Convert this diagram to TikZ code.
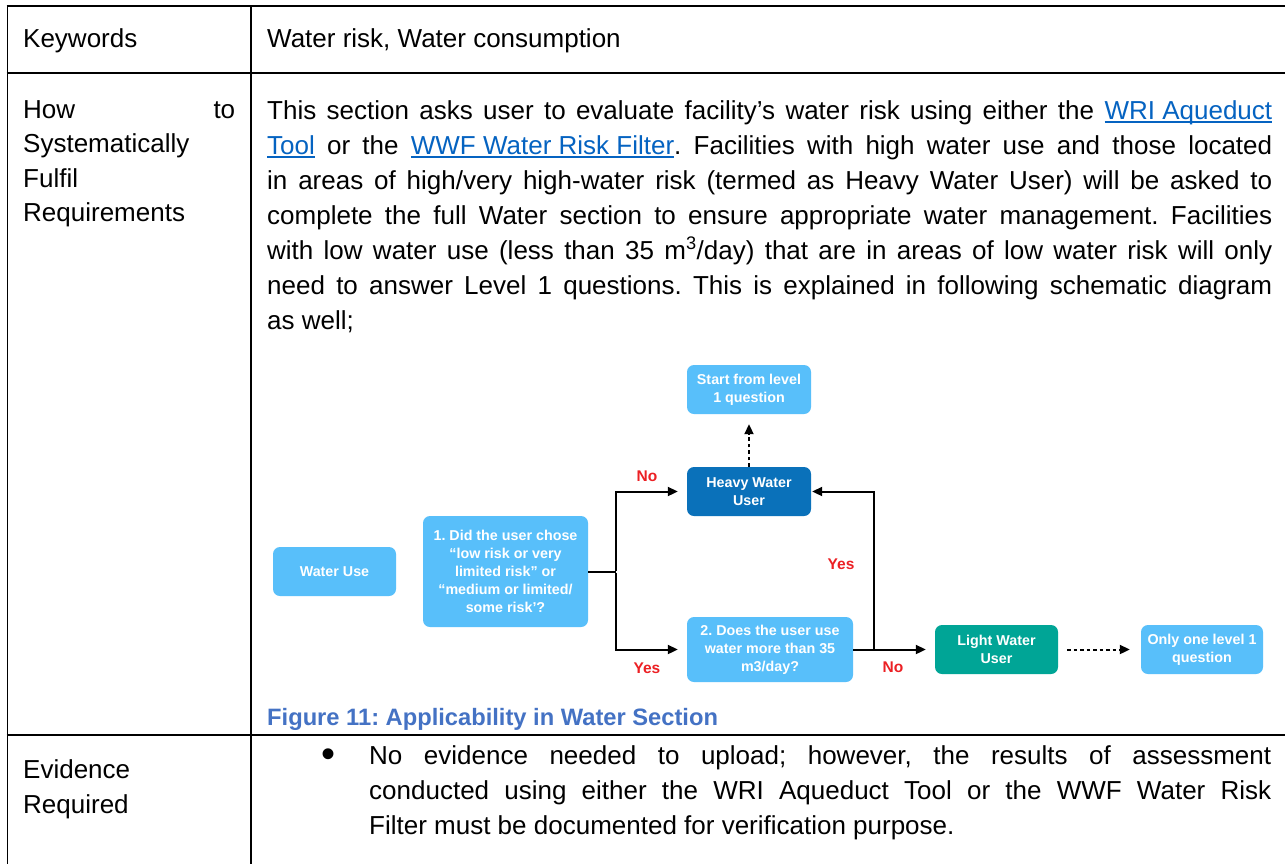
\documentclass[tikz,border=0pt]{standalone}
\usepackage{fontspec}
\setmainfont{Liberation Sans}
\usetikzlibrary{arrows.meta}
\frenchspacing

\definecolor{boxblue}{RGB}{88,191,250}
\definecolor{heavyblue}{RGB}{10,113,186}
\definecolor{boxteal}{RGB}{0,165,150}
\definecolor{labelred}{RGB}{236,32,36}
\definecolor{capblue}{RGB}{68,114,196}
\definecolor{linkblue}{RGB}{5,99,193}

% hyperlink-style text: blue with a solid underline
\newcommand\lnk[1]{{\color{linkblue}\setbox0\hbox{#1}\rlap{\rule[-3.6pt]{\wd0}{1.5pt}}\box0}}
\newcommand\bodyfont{\fontsize{26}{35}\selectfont}

\tikzset{
  tbl/.style={line width=1.8pt},
  txt/.style={anchor=base west, inner sep=0pt, font=\bodyfont},
  flowbox/.style={rounded corners=7pt, inner sep=0pt, text=white, align=center,
    font=\fontsize{14.3}{18}\selectfont\bfseries},
  conn/.style={line width=2pt},
  arr/.style={conn, -{Triangle[length=10pt,width=9pt]}, shorten >=9pt},
  dots/.style={conn, dash pattern=on 3.5pt off 3pt},
  lbl/.style={text=labelred, inner sep=0pt, font=\fontsize{15.5}{18}\selectfont\bfseries}
}

\begin{document}
\begin{tikzpicture}[x=1pt,y=-1pt]
\useasboundingbox[fill=white] (0,0) rectangle (1285,863);

% table grid
\draw[tbl] (6.6,6) -- (1290,6);
\draw[tbl] (6.6,73.3) -- (1290,73.3);
\draw[tbl] (6.6,735) -- (1290,735);
\draw[tbl] (7.5,5.1) -- (7.5,870);
\draw[tbl] (251,5.1) -- (251,870);

% row 1
\node[txt] (kw) at (23,47) {Keywords};
\node[txt] (kwv) at (267,47) {Water risk, Water consumption};

% row 2, left column
\node[txt] (h1) at (23,118) {\makebox[212pt][s]{How to}};
\node[txt] (h2) at (23,152.5) {Systematically};
\node[txt] (h3) at (23,187) {Fulfil};
\node[txt] (h4) at (23,221) {Requirements};

% row 2, paragraph
\node[txt] (p1) at (267,119) {\makebox[1005pt][s]{This section asks user to evaluate facility’s water risk using either the \lnk{WRI Aqueduct}}};
\node[txt] (p2) at (267,154) {\makebox[1005pt][s]{\lnk{Tool} or the \lnk{WWF Water Risk Filter}. Facilities with high water use and those located}};
\node[txt] (p3) at (267,189) {\makebox[1005pt][s]{in areas of high/very high-water risk (termed as Heavy Water User) will be asked to}};
\node[txt] (p4) at (267,224) {\makebox[1005pt][s]{complete the full Water section to ensure appropriate water management. Facilities}};
\node[txt] (p5) at (267,259) {\makebox[1005pt][s]{with low water use (less than 35 m\textsuperscript{3}/day) that are in areas of low water risk will only}};
\node[txt] (p6) at (267,294) {\makebox[1005pt][s]{need to answer Level 1 questions. This is explained in following schematic diagram}};
\node[txt] (p7) at (267,329) {as well;};

% flow chart
\node[flowbox, fill=boxblue, minimum width=123pt, minimum height=49pt] (water) at (334.5,571.5) {Water Use};
\node[flowbox, fill=boxblue, minimum width=165pt, minimum height=111pt] (q1) at (505.5,571.5)
  {1. Did the user chose\\“low risk or very\\limited risk” or\\“medium or limited/\\some risk’?};
\node[flowbox, fill=heavyblue, minimum width=124pt, minimum height=49pt] (heavy) at (749,491.5) {Heavy Water\\User};
\node[flowbox, fill=boxblue, minimum width=124pt, minimum height=49pt] (start) at (749,389.5) {Start from level\\1 question};
\node[flowbox, fill=boxblue, minimum width=166pt, minimum height=65pt] (q2) at (770,649.5) {2. Does the user use\\water more than 35\\m3/day?};
\node[flowbox, fill=boxteal, minimum width=123pt, minimum height=49pt] (light) at (996.5,649.5) {Light Water\\User};
\node[flowbox, fill=boxblue, minimum width=122pt, minimum height=49pt] (only) at (1202,649.5) {Only one level 1\\question};

\coordinate (j1) at (616,571.5);
\coordinate (j2) at (874,649.5);

\draw[conn] (q1.east) -- (j1);
\draw[arr] ([yshift=1pt]j1) |- (heavy.west);
\draw[arr] ([yshift=-1pt]j1) |- (q2.west);
\draw[arr] (q2.east) -- (light.west);
\draw[arr, shorten >=1pt] (j2) |- (heavy.east);
\draw[dots, -{Triangle[length=10pt,width=9pt]}, shorten >=10pt] (heavy.north) -- (start.south);
\draw[dots, -{Triangle[length=10pt,width=9pt]}, shorten <=9pt, shorten >=11pt] (light.east) -- (only.west);

\node[lbl] (no1) at (647,476) {No};
\node[lbl] (yes1) at (647,668) {Yes};
\node[lbl] (yes2) at (841,564) {Yes};
\node[lbl] (no2) at (893,667) {No};

% caption
\node[anchor=base west, inner sep=0pt, text=capblue, font=\fontsize{23.7}{28}\selectfont\bfseries] (cap) at (267,725)
  {Figure 11: Applicability in Water Section};

% row 3
\node[txt] (e1) at (23,778.5) {Evidence};
\node[txt] (e2) at (23,813) {Required};
\node[inner sep=0pt, font=\fontsize{40}{40}\selectfont] (bul) at (328,758) {\textbullet};
\node[txt] (b1) at (369,764) {\makebox[902pt][s]{No evidence needed to upload; however, the results of assessment}};
\node[txt] (b2) at (369,799) {\makebox[902pt][s]{conducted using either the WRI Aqueduct Tool or the WWF Water Risk}};
\node[txt] (b3) at (369,834) {Filter must be documented for verification purpose.};
\end{tikzpicture}
\end{document}
